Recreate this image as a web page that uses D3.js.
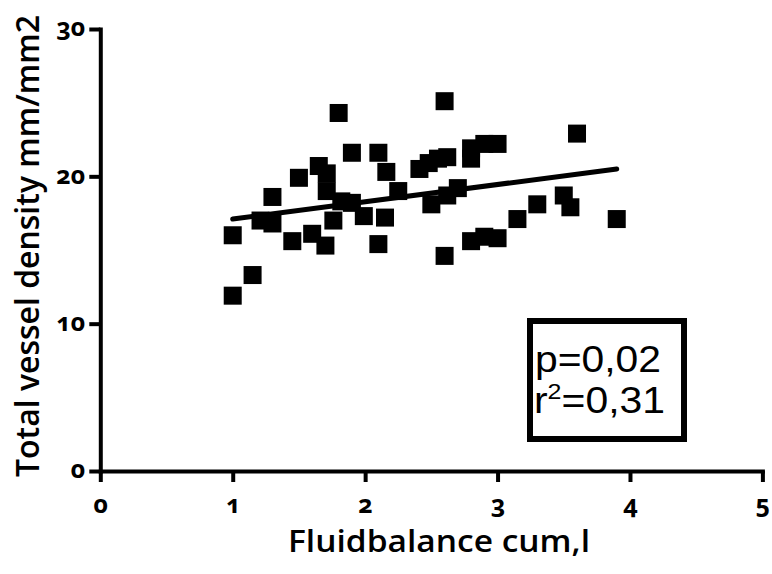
<!DOCTYPE html>
<html>
<head>
<meta charset="utf-8">
<script src="https://cdn.jsdelivr.net/npm/d3@7"></script>
<style>
  body { margin: 0; background: #fff; }
  svg { display: block; }
</style>
</head>
<body>
<svg id="chart" width="772" height="574"></svg>
<script>
// ---- data ----
const fluidBalance = [1.0, 1.0, 1.15, 1.21, 1.30, 1.30, 1.45, 1.50, 1.60, 1.65, 1.70, 1.71, 1.71, 1.76, 1.80, 1.82, 1.90, 1.90, 1.99, 2.10, 2.10, 2.16, 2.15, 2.25, 2.41, 2.48, 2.55, 2.62, 2.60, 2.50, 2.62, 2.70, 2.60, 2.80, 2.80, 2.90, 3.00, 2.80, 2.90, 3.00, 3.15, 3.30, 3.50, 3.55, 3.60, 3.90];
const vesselDensity = [11.9, 16.0, 13.3, 17.0, 16.8, 18.6, 15.6, 19.9, 16.1, 20.7, 15.3, 20.2, 19.0, 17.0, 24.3, 18.3, 18.2, 21.6, 17.3, 21.6, 15.4, 20.3, 17.2, 19.0, 20.5, 20.9, 21.2, 21.3, 25.1, 18.1, 18.7, 19.2, 14.6, 21.9, 21.2, 22.2, 22.2, 15.6, 15.9, 15.8, 17.1, 18.1, 18.7, 17.9, 22.9, 17.1];
const fitX = [1.0, 3.9];
const fitY = [17.1, 20.5];
const xTicks = [0, 1, 2, 3, 4, 5];
const yTicks = [0, 10, 20, 30];
const xTitle = "Fluidbalance cum,l";
const yTitle = "Total vessel density mm/mm2";
const statP = "p=0,02";
const statR = ["r", "2", "=0,31"];

// ---- chart ----
const svg = d3.select("#chart");
const x = d3.scaleLinear().domain([0, 5]).range([100.3, 762.4]);
const y = d3.scaleLinear().domain([0, 30]).range([471, 29]);

const tickFont = "'Noto Sans', 'Open Sans', sans-serif";
const fmt = d3.format("d");

// y axis
const gy = svg.append("g").attr("transform", `translate(${x(0)},0)`)
  .call(d3.axisLeft(y).tickValues(yTicks).tickFormat(fmt).tickSize(11).tickSizeOuter(0).tickPadding(4));
// x axis
const gx = svg.append("g").attr("transform", `translate(0,${y(0)})`)
  .call(d3.axisBottom(x).tickValues(xTicks).tickFormat(fmt).tickSize(11).tickSizeOuter(0));

[gx, gy].forEach(g => {
  g.attr("font-size", null).attr("font-family", null);
  g.select(".domain").attr("stroke", "#000").attr("stroke-width", 4).attr("stroke-linecap", "square");
  g.selectAll(".tick line").attr("stroke", "#000").attr("stroke-width", 4);
  g.selectAll(".tick text")
    .attr("fill", "#000")
    .style("font-family", tickFont)
    .style("font-weight", "700")
    .style("font-size", "25px")
    .style("font-variant-numeric", "oldstyle-nums")
    .style("font-feature-settings", "'onum' 1");
});
gy.selectAll(".tick text").attr("dy", "0.27em");
gx.selectAll(".tick text").attr("y", 42).attr("dy", null);

// regression line
svg.append("line")
  .attr("x1", x(fitX[0])).attr("y1", y(fitY[0]))
  .attr("x2", x(fitX[1])).attr("y2", y(fitY[1]))
  .attr("stroke", "#000").attr("stroke-width", 5).attr("stroke-linecap", "round");

// points
const S = 18;
svg.append("g").selectAll("rect")
  .data(fluidBalance.map((v, i) => [v, vesselDensity[i]]))
  .join("rect")
  .attr("x", d => x(d[0]) - S / 2)
  .attr("y", d => y(d[1]) - S / 2)
  .attr("width", S).attr("height", S)
  .attr("fill", "#000");

// axis titles
svg.append("text")
  .attr("x", (288 + 590) / 2).attr("y", 552)
  .attr("text-anchor", "middle")
  .attr("textLength", 302).attr("lengthAdjust", "spacingAndGlyphs")
  .style("font-family", "'Open Sans', sans-serif")
  .style("font-weight", "600")
  .style("font-size", "31px")
  .text(xTitle);

svg.append("text")
  .attr("transform", `translate(39,${(15 + 477) / 2}) rotate(-90)`)
  .attr("text-anchor", "middle")
  .attr("textLength", 462).attr("lengthAdjust", "spacingAndGlyphs")
  .style("font-family", "'Open Sans', sans-serif")
  .style("font-weight", "600")
  .style("font-size", "32px")
  .text(yTitle);

// stats box
svg.append("rect")
  .attr("x", 530).attr("y", 321).attr("width", 154).attr("height", 118)
  .attr("fill", "none").attr("stroke", "#000").attr("stroke-width", 6);

svg.append("text")
  .attr("x", 535).attr("y", 371.5)
  .attr("textLength", 126).attr("lengthAdjust", "spacingAndGlyphs")
  .style("font-family", "'Liberation Sans', Arial, sans-serif")
  .style("font-size", "36px")
  .text(statP);

const t2 = svg.append("text")
  .attr("x", 534).attr("y", 413)
  .attr("textLength", 131).attr("lengthAdjust", "spacingAndGlyphs")
  .style("font-family", "'Liberation Sans', Arial, sans-serif")
  .style("font-size", "36px");
t2.append("tspan").text(statR[0]);
t2.append("tspan").attr("dy", -14).style("font-size", "22px").text(statR[1]);
t2.append("tspan").attr("dy", 14).text(statR[2]);
</script>
</body>
</html>
